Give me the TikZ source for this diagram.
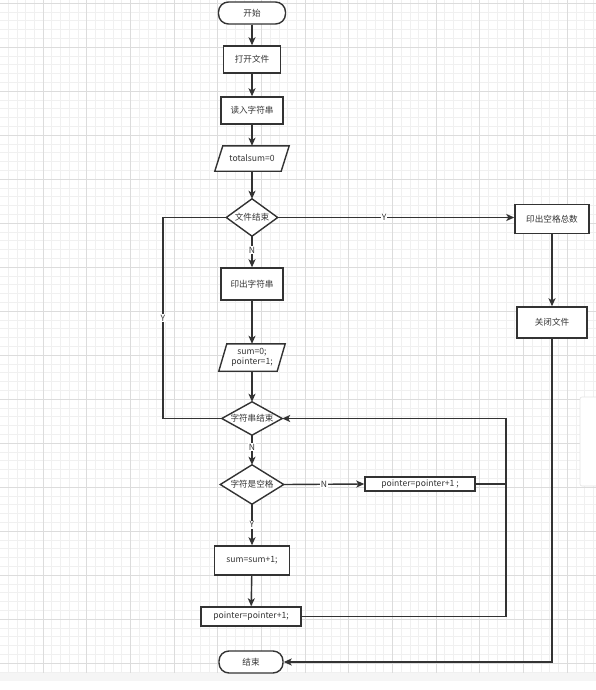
\documentclass[tikz,border=0pt]{standalone}
\usepackage{fontspec}
\setmainfont{Noto Sans CJK SC}
\usetikzlibrary{arrows.meta}
\definecolor{lc}{HTML}{333333}
\definecolor{gminor}{HTML}{F0F0F0}
\definecolor{gmajor}{HTML}{DCDCDC}
\pgfdeclarelayer{gridlayer}
\pgfdeclarelayer{shapelayer}
\pgfsetlayers{gridlayer,shapelayer,main}
\tikzset{
  fs/.style={font=\fontsize{8.6}{10}\selectfont, text=lc},
  box/.style={fs, draw=lc, line width=1.4pt, fill=white, inner sep=0pt},
  term/.style={box, rounded corners=10pt},
  bare/.style={fs, inner sep=0pt, align=center},
  shp/.style={draw=lc, line width=1.4pt, fill=white, line join=miter},
  conn/.style={draw=lc, line width=1.4pt},
  arr/.style={conn, -{Stealth[length=8pt,width=7pt,inset=2pt]}},
  lbl/.style={fill=white, inner sep=1pt, font=\fontsize{8.6}{9}\selectfont, text=lc},
}
\newcommand{\diam}[1]{\begin{pgfonlayer}{shapelayer}\path[shp] (#1.north) -- (#1.east) -- (#1.south) -- (#1.west) -- cycle;\end{pgfonlayer}}
\newcommand{\para}[2]{\begin{pgfonlayer}{shapelayer}\path[shp] ([xshift=#2pt]#1.north west) -- (#1.north east) -- ([xshift=-#2pt]#1.south east) -- (#1.south west) -- cycle;\end{pgfonlayer}}
\begin{document}
\begin{tikzpicture}[x=1pt,y=-1pt]
\useasboundingbox (0,0) rectangle (596,690);
\begin{pgfonlayer}{gridlayer}
  \fill[white] (0,0) rectangle (596,690);
  \foreach \i in {0,...,67} \draw[gminor, line width=0.5pt] ({8.04+8.734*\i},0) -- ({8.04+8.734*\i},673);
  \foreach \i in {0,...,76} \draw[gminor, line width=0.5pt] (0,{3+8.8*\i}) -- (596,{3+8.8*\i});
  \foreach \i in {0,...,12} \draw[gmajor, line width=0.6pt] ({43+43.67*\i},0) -- ({43+43.67*\i},673);
  \foreach \i in {0,...,15} \draw[gmajor, line width=0.6pt] (0,{3+44*\i}) -- (596,{3+44*\i});
  \fill[gray!8] (0,673) rectangle (596,681);
  \draw[gray!22, line width=0.6pt, fill=white, rounded corners=2pt] (580,397) rectangle (600,486);
\end{pgfonlayer}

\node[term, minimum width=67pt, minimum height=22pt] (start) at (252,13) {开始};
\node[box, minimum width=57pt, minimum height=27pt] (open) at (252,59.5) {打开文件};
\node[box, minimum width=62pt, minimum height=27pt] (read) at (252,110.5) {读入字符串};
\node[bare, minimum width=74pt, minimum height=25pt] (tot) at (252,158.5) {totalsum=0};
\para{tot}{8}
\node[bare, minimum width=51pt, minimum height=37pt] (eof) at (252,217.5) {文件结束};
\diam{eof}
\node[box, minimum width=62pt, minimum height=32pt] (prt) at (252,284) {印出字符串};
\node[bare, minimum width=66pt, minimum height=27pt] (init) at (252,357.5) {sum=0;\\pointer=1;};
\para{init}{8}
\node[bare, minimum width=60pt, minimum height=33pt] (eos) at (252,418.5) {字符串结束};
\diam{eos}
\node[bare, minimum width=63pt, minimum height=39pt] (sp) at (252,484.5) {字符是空格};
\diam{sp}
\node[box, minimum width=75pt, minimum height=29pt] (inc) at (252,560.5) {sum=sum+1;};
\node[box, minimum width=100pt, minimum height=19pt] (ptr) at (251,616.5) {pointer=pointer+1;};
\node[term, minimum width=64pt, minimum height=22pt] (end) at (251,662) {结束};
\node[box, minimum width=74pt, minimum height=29pt] (tot2) at (552,219) {印出空格总数};
\node[box, minimum width=70pt, minimum height=31pt] (close) at (552,322.5) {关闭文件};
\node[box, minimum width=110pt, minimum height=14pt] (ptr2) at (420,484) {pointer=pointer+1 ;};

\coordinate (lft) at (163,217.5);
\coordinate (lfb) at (163,418.5);
\coordinate (rt) at (506,418.5);
\coordinate (rb) at (506,616.5);
\coordinate (rm) at (506,484);
\coordinate (cb) at (552,662);

\draw[arr] (start) -- (open);
\draw[arr] (open) -- (read);
\draw[arr] (read) -- (tot);
\draw[arr] (tot) -- (eof);
\draw[arr] (eof.east) -- node[lbl, pos=0.45] {Y} (eof.east -| tot2.west);
\draw[arr] (eof) -- node[lbl, pos=0.45] {N} (prt);
\draw[conn] (eof.west) -- (lft) -- node[lbl] {Y} (lfb) -- (eos.west);
\draw[arr] (prt) -- (init);
\draw[arr] (init) -- (eos);
\draw[arr] (eos) -- node[lbl, pos=0.4] {N} (sp);
\draw[arr] (sp.east) -- node[lbl, pos=0.5] {N} (ptr2.west);
\draw[arr] (sp) -- node[lbl, pos=0.5] {Y} (inc);
\draw[arr] (inc) -- (ptr);
\draw[conn] (ptr2.east) -- (rm);
\draw[arr] (ptr.east) -- (rb) -- (rt) -- (eos.east);
\draw[arr] (tot2) -- (close);
\draw[arr] (close.south) -- (cb) -- (end.east);
\end{tikzpicture}
\end{document}
